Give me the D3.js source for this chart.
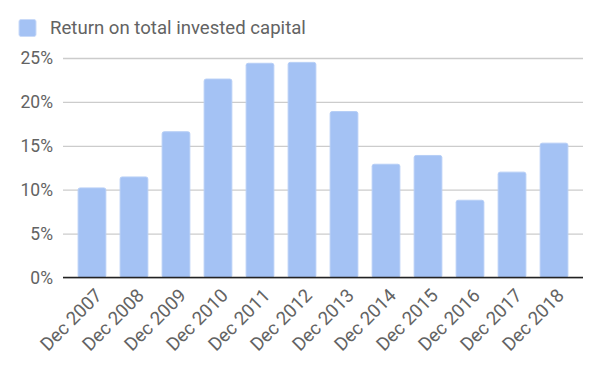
<!DOCTYPE html>
<html>
<head>
<meta charset="utf-8">
<script src="https://cdn.jsdelivr.net/npm/d3@7"></script>
<style>
  body { margin: 0; background: #fff; }
  text { font-family: Roboto, "Noto Sans", sans-serif; fill: #636363; }
</style>
</head>
<body>
<svg></svg>
<script>
const width = 600;
const height = 370;

// data
const periods = ['Dec 2007', 'Dec 2008', 'Dec 2009', 'Dec 2010', 'Dec 2011', 'Dec 2012',
  'Dec 2013', 'Dec 2014', 'Dec 2015', 'Dec 2016', 'Dec 2017', 'Dec 2018']
const returnOnCapital = [10.2, 11.45, 16.6, 22.6, 24.4, 24.5, 18.9, 12.9, 13.9, 8.8, 12.0, 15.3]
const yTicks = [0, 5, 10, 15, 20, 25]
const seriesName = 'Return on total invested capital'

const margin = { top: 58, right: 17, bottom: 92.5, left: 63 }

const svg = d3.select('svg')
  .attr('width', width)
  .attr('height', height)

const x = d3.scaleBand()
  .domain(periods)
  .range([margin.left, width - margin.right])
  .paddingInner(0.34)
  .paddingOuter(0.36)

const y = d3.scaleLinear()
  .domain([0, 25])
  .range([height - margin.bottom, margin.top])

// legend
svg.append('rect')
  .attr('x', 19).attr('y', 19.5)
  .attr('width', 17).attr('height', 17)
  .attr('rx', 2)
  .attr('fill', '#a4c2f4')
  .attr('stroke', '#c9daf8')

svg.append('text')
  .attr('x', 50).attr('y', 34)
  .attr('font-size', 18.6)
  .text(seriesName)

// gridlines + y labels
const yAxis = svg.append('g')
  .attr('transform', `translate(${margin.left},0)`)
  .call(d3.axisLeft(y).tickValues(yTicks).tickFormat(d => d + '%')
    .tickSize(-(width - margin.left - margin.right)).tickPadding(10))

yAxis.select('.domain').remove()
yAxis.selectAll('.tick line').attr('stroke', '#cccccc').attr('stroke-width', 1.3)
yAxis.selectAll('.tick text')
  .attr('font-size', 17.5)
  .attr('font-family', 'Roboto, sans-serif')
  .attr('fill', '#636363')

// bars
svg.append('g')
  .selectAll('rect')
  .data(returnOnCapital)
  .join('rect')
    .attr('x', (d, i) => x(periods[i]))
    .attr('y', d => y(d))
    .attr('width', x.bandwidth())
    .attr('height', d => y(0) - y(d))
    .attr('rx', 2)
    .attr('fill', '#a4c2f4')
    .attr('stroke', '#b6cef6')
    .attr('stroke-width', 1)

// baseline
svg.append('line')
  .attr('x1', margin.left).attr('x2', width - margin.right)
  .attr('y1', y(0)).attr('y2', y(0))
  .attr('stroke', '#222').attr('stroke-width', 1.5)

// x labels
svg.append('g')
  .selectAll('text')
  .data(periods)
  .join('text')
    .attr('transform', d => `translate(${x(d) + x.bandwidth() / 2 + 2},${y(0) + 10}) rotate(-45)`)
    .attr('text-anchor', 'end')
    .attr('dy', '0.7em')
    .attr('font-size', 18.6)
    .text(d => d)
</script>
</body>
</html>
